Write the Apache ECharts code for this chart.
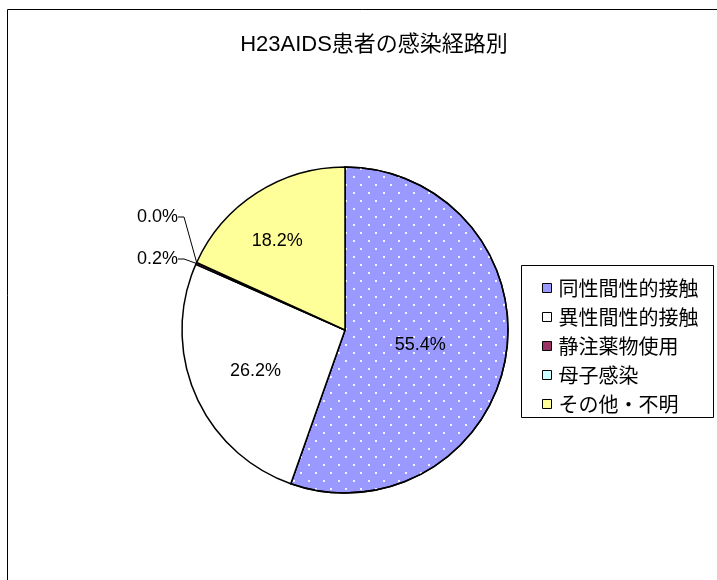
<!DOCTYPE html>
<html><head><meta charset="utf-8">
<script src="https://cdn.jsdelivr.net/npm/echarts@6/dist/echarts.min.js"></script>
<style>html,body{margin:0;padding:0;background:#fff}#c{width:717px;height:580px}</style>
</head><body><div id="c"></div>
<script>
var titleText = 'H23AIDS患者の感染経路別';
var categories = ['同性間性的接触', '異性間性的接触', '静注薬物使用', '母子感染', 'その他・不明'];
var values = [55.4, 26.2, 0.2, 0.0, 18.2];
var colors = ['#9999FF', '#FFFFFF', '#993366', '#CCFFFF', '#FFFF99'];
var outsideIdx = [2, 3];

var chart = echarts.init(document.getElementById('c'), null, {renderer: 'canvas'});
var dotDecal = {symbol: 'rect', symbolSize: 1, color: '#f4f4ff', dashArrayX: [[2, 13], [0, 8, 2, 5]], dashArrayY: [2, 6], rotation: 0};
var data = categories.map(function (name, i) {
  var d = {name: name, value: values[i], itemStyle: {color: colors[i]}};
  if (i === 0) d.itemStyle.decal = dotDecal;
  if (outsideIdx.indexOf(i) >= 0) {
    d.label = {position: 'outside'};
    d.labelLine = {show: true, length: 6, length2: 6};
  }
  return d;
});
var layoutShift = {
  0: {dx: -8, dy: 1},
  1: {dx: -12, dy: 7},
  4: {dx: -22, dy: -18}
};
chart.setOption({
  animation: false,
  backgroundColor: '#fff',
  title: {text: titleText, left: 369, textAlign: 'center', top: 29,
    textStyle: {fontFamily: 'Liberation Sans, Noto Sans CJK JP, sans-serif', fontSize: 22, fontWeight: 'normal', color: '#000'}},
  graphic: [
    {type: 'rect', shape: {x: 7.5, y: 9.5, width: 800, height: 700}, style: {fill: 'none', stroke: '#000', lineWidth: 1}, z: -1},
    {type: 'rect', shape: {x: 521.5, y: 265.5, width: 192, height: 152}, style: {fill: '#fff', stroke: '#000', lineWidth: 1}, z: 0}
  ],
  legend: {
    orient: 'vertical', left: 537, top: 273, itemWidth: 9, itemHeight: 9, itemGap: 9,
    icon: 'rect', z: 5,
    itemStyle: {borderColor: '#000', borderWidth: 1, decal: 'none'},
    textStyle: {fontFamily: 'Noto Sans CJK JP, sans-serif', fontSize: 20, color: '#000', padding: [0, 0, 0, 2]},
    data: categories
  },
  series: [{
    type: 'pie',
    center: [345, 330],
    radius: 163,
    startAngle: 90,
    clockwise: true,
    minAngle: 0,
    avoidLabelOverlap: false,
    itemStyle: {borderColor: '#000', borderWidth: 1.5},
    emphasis: {disabled: true},
    label: {
      show: true, position: 'inside', color: '#000',
      fontFamily: 'Liberation Sans Narrow, Liberation Sans, sans-serif', fontSize: 18,
      formatter: function (p) { return p.value.toFixed(1) + '%'; }
    },
    labelLine: {show: false, lineStyle: {color: '#000', width: 1}},
    labelLayout: function (p) {
      if (p.dataIndex === 2) return {x: 178, y: 259, align: 'right', verticalAlign: 'middle'};
      if (p.dataIndex === 3) return {x: 178, y: 217, align: 'right', verticalAlign: 'middle'};
      return layoutShift[p.dataIndex] || {};
    },
    data: data
  }]
});
</script></body></html>
